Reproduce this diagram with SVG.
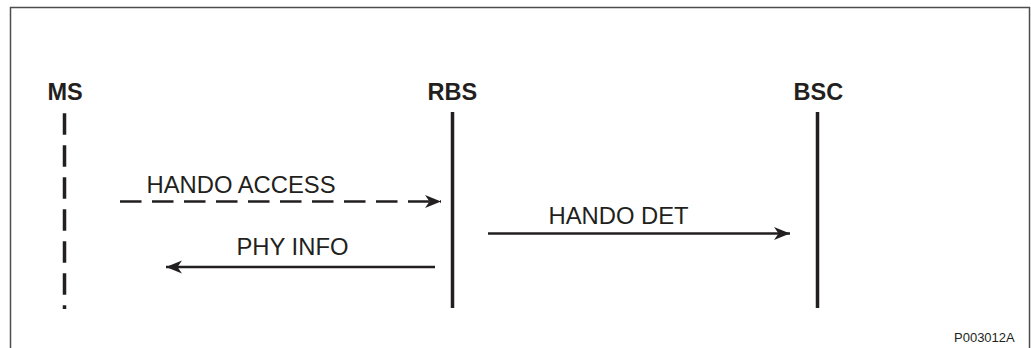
<svg xmlns="http://www.w3.org/2000/svg" width="1031" height="348" viewBox="0 0 1031 348">
  <style>
    .lbl { font-family: "Liberation Sans", Arial, sans-serif; font-weight: bold; font-size: 23.5px; fill: #231f20; }
    .msg { font-family: "Liberation Sans", Arial, sans-serif; font-size: 23.8px; fill: #231f20; }
    .life { stroke: #231f20; stroke-width: 3.5; fill: none; }
    .arrow { stroke: #231f20; stroke-width: 2.5; fill: none; }
    .ref { font-family: "Liberation Sans", Arial, sans-serif; font-size: 13px; fill: #231f20; }
  </style>
  <defs>
    <marker id="ah" markerUnits="userSpaceOnUse" markerWidth="19" markerHeight="15" refX="17" refY="7.5" orient="auto" viewBox="0 0 19 15">
      <path d="M17,7.5 L1,1 L5.5,7.5 L1,14 Z" fill="#231f20"/>
    </marker>
  </defs>
  <rect x="10.5" y="7.5" width="1019" height="350" fill="#ffffff" stroke="#4d4d4d" stroke-width="1.5"/>

  <g id="node-ms">
    <text class="lbl" x="47.5" y="100">MS</text>
    <line class="life" x1="64.5" y1="113.3" x2="64.5" y2="309" stroke-dasharray="21.5 10.5"/>
  </g>
  <g id="node-rbs">
    <text class="lbl" x="427.5" y="99.5">RBS</text>
    <line class="life" x1="452.5" y1="112" x2="452.5" y2="308"/>
  </g>
  <g id="node-bsc">
    <text class="lbl" x="793.5" y="100">BSC</text>
    <line class="life" x1="817.5" y1="112" x2="817.5" y2="308"/>
  </g>

  <g id="connectors">
    <line class="arrow" x1="120" y1="201.5" x2="441" y2="201.5" stroke-dasharray="21.5 10.5" marker-end="url(#ah)"/>
    <text class="msg" x="146.5" y="193">HANDO ACCESS</text>
    <line class="arrow" x1="488" y1="233.5" x2="790" y2="233.5" marker-end="url(#ah)"/>
    <text class="msg" x="548.5" y="224">HANDO DET</text>
    <line class="arrow" x1="435" y1="267" x2="166" y2="267" marker-end="url(#ah)"/>
    <text class="msg" x="236.5" y="255">PHY INFO</text>
  </g>

  <text class="ref" x="954" y="342">P003012A</text>
</svg>
